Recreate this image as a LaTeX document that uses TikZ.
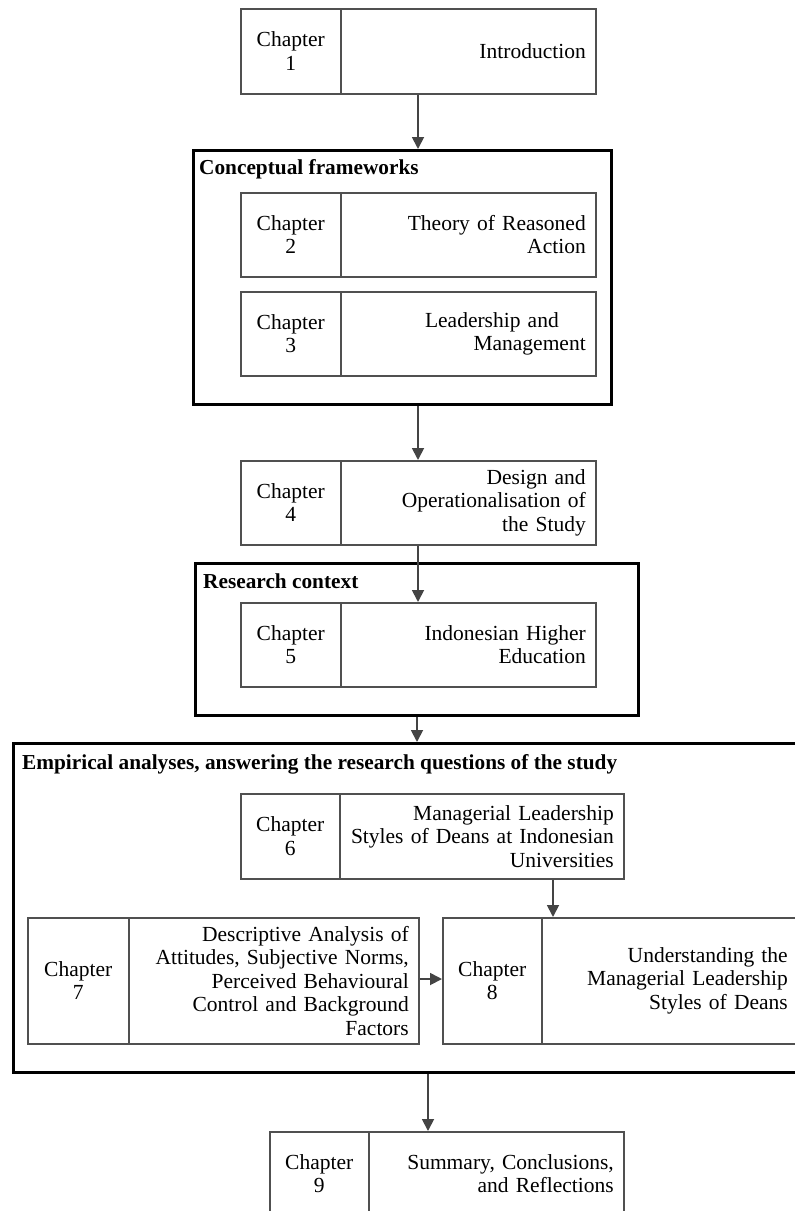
\documentclass[tikz,border=0pt]{standalone}
\usepackage{fontspec}
\setmainfont{Liberation Serif}
\usetikzlibrary{arrows.meta}

\definecolor{boxline}{HTML}{505050}
\definecolor{arrowgray}{HTML}{444444}

\tikzset{
  chapcell/.style={draw=boxline, line width=1.5pt, anchor=north west,
    inner sep=0pt, font=\fontsize{21.5}{23.5}\selectfont},
  labelcell/.style={chapcell, align=center},
  titlecell/.style={chapcell, align=right},
  framebox/.style={draw=black, line width=3pt, anchor=north west, inner sep=0pt},
  frametitle/.style={anchor=base west, inner sep=0pt,
    font=\fontsize{21.3}{23.5}\selectfont\bfseries},
  arr/.style={draw=arrowgray, line width=1.8pt,
    -{Triangle[width=12pt,length=12pt]}, shorten >=0pt},
}

% one chapter box: label cell + title cell
% #1 name, #2 x left, #3 x divider, #4 x right, #5 y top, #6 height, #7 number, #8 title
\newcommand{\chapterbox}[8]{%
  \pgfmathsetmacro{\lw}{#3-#2}%
  \pgfmathsetmacro{\rw}{#4-#3}%
  \node[labelcell, minimum width=\lw pt, minimum height=#6pt, text width=\lw pt]
    (#1l) at (#2,#5) {Chapter\\#7};
  \node[titlecell, minimum width=\rw pt, minimum height=#6pt, text width=\rw pt-20pt,
    inner xsep=10pt] (#1r) at (#3,#5) {#8};
}

\begin{document}
\begin{tikzpicture}[x=1pt,y=-1pt]
\useasboundingbox (0,0) rectangle (795,1211);
\begin{scope}
\clip (0,0) rectangle (795,1211);

% group frames
\node[framebox, minimum width=418pt, minimum height=254pt] (concept) at (192,149) {};
\node[frametitle] (concepttitle) at (199,174) {Conceptual frameworks};

\node[framebox, minimum width=443pt, minimum height=152pt] (context) at (194,562) {};
\node[frametitle] (contexttitle) at (203,588) {Research context};

\node[framebox, minimum width=800pt, minimum height=329pt] (empirical) at (12,742) {};
\node[frametitle] (empiricaltitle) at (22,769) {Empirical analyses, answering the research questions of the study};

% chapter boxes
\chapterbox{c1}{240}{340}{595}{8}{85}{1}{Introduction}
\chapterbox{c2}{240}{340}{595}{192}{84}{2}{Theory of Reasoned\\Action}
\chapterbox{c3}{240}{340}{595}{291}{84}{3}{Leadership and\kern27pt\relax\\Management}
\chapterbox{c4}{240}{340}{595}{460}{84}{4}{Design and\\Operationalisation of\\the Study}
\chapterbox{c5}{240}{340}{595}{602}{84}{5}{Indonesian Higher\\Education}
\chapterbox{c6}{240}{339}{623}{793}{85}{6}{Managerial Leadership\\Styles of Deans at Indonesian\\Universities}
\chapterbox{c7}{27}{128}{418}{917}{126}{7}{Descriptive Analysis of\\Attitudes, Subjective Norms,\\Perceived Behavioural\\Control and Background\\Factors}
\chapterbox{c8}{442}{541}{797}{917}{126}{8}{Understanding the\\Managerial Leadership\\Styles of Deans}
\chapterbox{c9}{269}{368}{623}{1131}{84}{9}{Summary, Conclusions,\\and Reflections}

% connector columns
\coordinate (xa) at (418,0);
\coordinate (xb) at (417,0);
\coordinate (xc) at (553,0);
\coordinate (xd) at (428,0);
\coordinate (ya) at (0,979);

% connectors
\draw[arr] (xa |- c1r.south) -- (xa |- concept.north);
\draw[arr] (xa |- concept.south) -- (xa |- c4r.north);
\draw[arr] (xa |- c4r.south) -- (xa |- c5r.north);
\draw[arr] (xb |- context.south) -- (xb |- empirical.north);
\draw[arr] (xc |- c6r.south) -- (xc |- c8r.north);
\draw[arr] (c7r.east |- ya) -- (c8l.west |- ya);
\draw[arr] (xd |- empirical.south) -- (xd |- c9r.north);
\end{scope}
\end{tikzpicture}
\end{document}
